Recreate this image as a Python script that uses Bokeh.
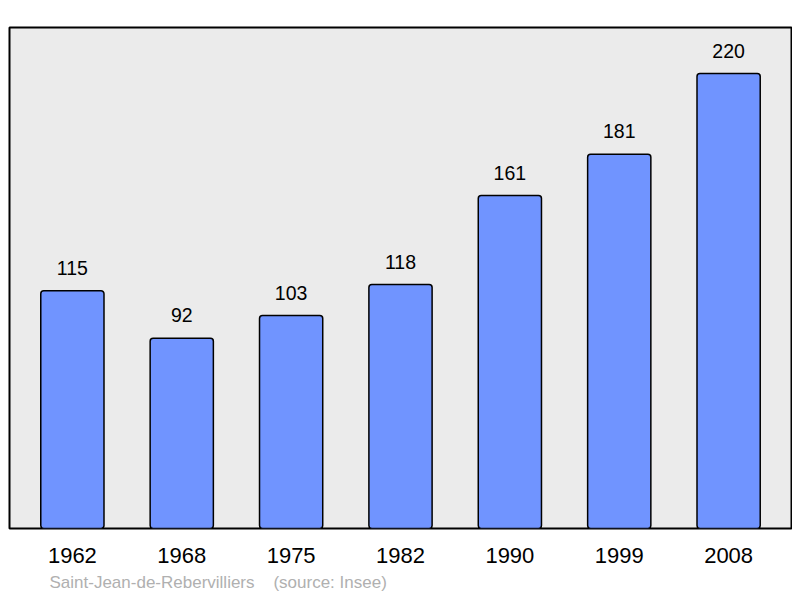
from bokeh.plotting import figure
from bokeh.models import Range1d, FixedTicker, ColumnDataSource, Title
from bokeh.embed import file_html
from bokeh.resources import INLINE

years = ["1962", "1968", "1975", "1982", "1990", "1999", "2008"]
population = [115, 92, 103, 118, 161, 181, 220]

idx = list(range(len(years)))
src = ColumnDataSource(dict(x=idx, top=population, label=[str(v) for v in population]))

x0, x1 = -0.575, len(years) - 1 + 0.575
y0, y1 = 0, 242.3
p = figure(width=792, height=598, output_backend="svg", toolbar_location=None,
           x_range=Range1d(x0, x1), y_range=Range1d(y0, y1),
           min_border_left=9, min_border_right=1, min_border_top=27, min_border_bottom=70)
p.background_fill_color = "#ebebeb"
p.border_fill_color = "white"
p.outline_line_color = "black"
p.outline_line_width = 2
p.grid.visible = False
p.yaxis.visible = False

p.vbar(x="x", top="top", bottom=0, width=0.578, source=src,
       fill_color="#7094ff", line_color="black", line_width=1.5, border_radius=3)
p.text(x="x", y="top", text="label", source=src, text_align="center",
       text_baseline="alphabetic", y_offset=-23, text_font_size="19.5px",
       text_font={"value": "Liberation Sans"}, text_color="black")

ax = p.xaxis[0]
ax.ticker = FixedTicker(ticks=idx)
ax.major_label_overrides = {i: y for i, y in enumerate(years)}
ax.axis_line_color = None
ax.major_tick_line_color = None
ax.minor_tick_line_color = None
ax.major_label_standoff = 13
ax.major_label_text_font = "Liberation Sans"
ax.major_label_text_font_size = "22px"
ax.major_label_text_color = "black"

nb = "\u00a0" * 4
footer = Title(text="Saint-Jean-de-Rebervilliers" + nb + "(source: Insee)",
               align="left", offset=40, standoff=11,
               text_font="Liberation Sans", text_font_size="17px",
               text_font_style="normal", text_color="#b0b0b0")
p.add_layout(footer, "below")

open("out.html", "w").write(file_html(p, INLINE))
